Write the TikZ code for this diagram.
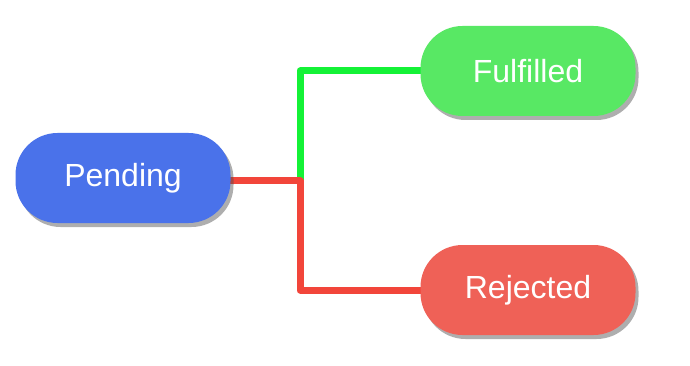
\documentclass[tikz,border=0pt]{standalone}
\usepackage{fontspec}
\setmainfont{Liberation Sans}
\usetikzlibrary{shadows,backgrounds}
\definecolor{pblue}{HTML}{4A72EA}
\definecolor{fgreen}{HTML}{58E864}
\definecolor{rred}{HTML}{EF6157}
\definecolor{lgreen}{HTML}{14F236}
\definecolor{lred}{HTML}{F2453A}
\tikzset{
  state/.style={rounded corners=42pt, minimum width=215pt, minimum height=90pt,
    text=white, font=\fontsize{32}{38}\selectfont, inner sep=0pt,
    drop shadow={shadow xshift=3pt, shadow yshift=-4pt, opacity=0.45, fill=black!70}},
  wire/.style={line width=7pt, line join=round, line cap=round}
}
\begin{document}
\begin{tikzpicture}[x=1pt,y=-1pt]
\useasboundingbox (0,0) rectangle (690,366);
\node[state, fill=pblue] (pend) at (123,178) {Pending};
\node[state, fill=fgreen] (ful) at (528,71) {Fulfilled};
\node[state, fill=rred] (rej) at (528,290) {Rejected};
\coordinate (j) at (300,181);
\begin{scope}[on background layer]
\draw[wire, lgreen] (j) |- (ful.west);
\draw[wire, lred] (pend.east |- j) -- (j) |- (rej.west);
\end{scope}
\end{tikzpicture}
\end{document}
